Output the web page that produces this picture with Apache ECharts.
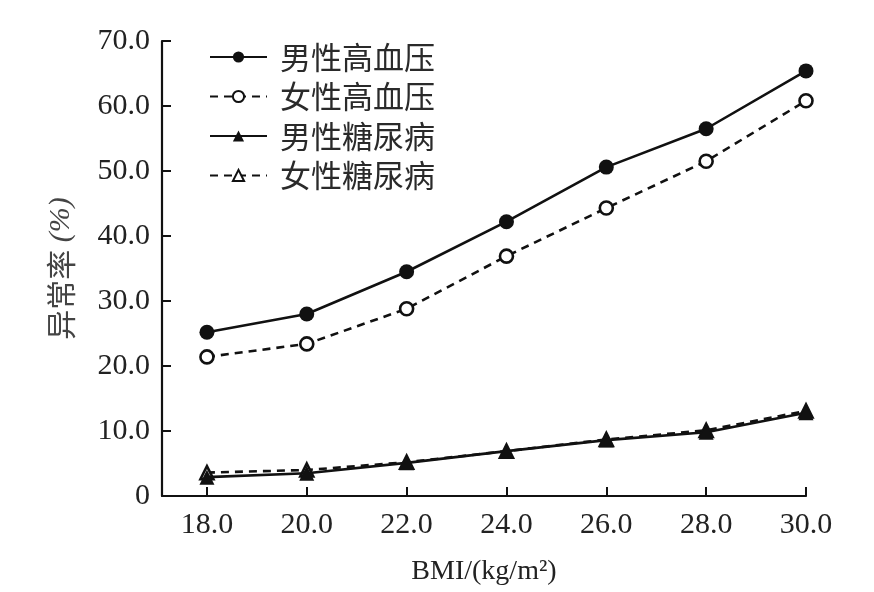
<!DOCTYPE html>
<html>
<head>
<meta charset="utf-8">
<script src="https://cdn.jsdelivr.net/npm/echarts@6/dist/echarts.min.js"></script>
<style>html,body{margin:0;padding:0;background:#fff;}#c{width:874px;height:592px;}</style>
</head>
<body>
<div id="c"></div>
<script>
const bmi = [18, 20, 22, 24, 26, 28, 30];
const maleHtn = [25.2, 28.0, 34.5, 42.2, 50.6, 56.5, 65.4];
const femaleHtn = [21.4, 23.4, 28.8, 36.9, 44.3, 51.5, 60.8];
const maleDm = [2.9, 3.5, 5.1, 6.9, 8.6, 9.8, 12.8];
const femaleDm = [3.6, 4.0, 5.2, 6.9, 8.7, 10.1, 13.1];
const names = ['男性高血压', '女性高血压', '男性糖尿病', '女性糖尿病'];

const pair = arr => bmi.map((x, i) => [x, arr[i]]);
const serif = '"Liberation Serif", "DejaVu Serif", serif';
const cjk = '"Noto Sans CJK SC", sans-serif';
const ink = '#111';

function mk(name, arr, symbol, filled, dashed) {
  return {
    name, type: 'line', data: pair(arr), symbol,
    symbolSize: filled ? 15 : 13,
    showSymbol: true,
    lineStyle: { color: ink, width: 2.6, type: dashed ? [8, 6] : 'solid' },
    itemStyle: { color: filled ? ink : '#fff', borderColor: ink, borderWidth: filled ? 0 : 2.6 },
    emphasis: { disabled: true },
    z: filled ? 3 : 2
  };
}

const chart = echarts.init(document.getElementById('c'), null, { renderer: 'canvas' });
chart.setOption({
  backgroundColor: '#fff',
  animation: false,
  grid: { left: 162, right: 68, top: 41, bottom: 96, containLabel: false },
  legend: {
    orient: 'vertical', left: 204, top: 36,
    itemWidth: 57, itemHeight: 14, itemGap: 7.5,
    textStyle: { fontFamily: cjk, fontSize: 31, color: '#2a2a2a', lineHeight: 32, padding: [0, 0, 0, 8] },
    data: names
  },
  xAxis: {
    type: 'value', min: 17.1, max: 30,
    name: 'BMI/(kg/m²)', nameLocation: 'middle', nameGap: 62,
    nameTextStyle: { fontFamily: serif, fontSize: 28, color: '#222' },
    axisLine: { lineStyle: { color: ink, width: 2.2 } },
    axisTick: { inside: true, length: 9, lineStyle: { color: ink, width: 2 }, customValues: bmi },
    axisLabel: { customValues: bmi, formatter: v => v.toFixed(1), margin: 14, fontFamily: serif, fontSize: 30, color: '#222' },
    splitLine: { show: false }
  },
  yAxis: {
    type: 'value', min: 0, max: 70, interval: 10,
    name: '{c|异常率}{s| (%)}', nameLocation: 'middle', nameGap: 86, nameRotate: 90,
    nameTextStyle: {
      color: '#444',
      rich: {
        c: { fontFamily: cjk, fontSize: 30, color: '#444' },
        s: { fontFamily: serif, fontSize: 30, color: '#444', fontStyle: 'italic' }
      }
    },
    axisLine: { show: true, lineStyle: { color: ink, width: 2.2 } },
    axisTick: { show: true, inside: true, length: 9, lineStyle: { color: ink, width: 2 } },
    axisLabel: { formatter: v => v === 0 ? '0' : v.toFixed(1), margin: 12, fontFamily: serif, fontSize: 30, color: '#222' },
    splitLine: { show: false }
  },
  series: [
    mk(names[0], maleHtn, 'circle', true, false),
    mk(names[1], femaleHtn, 'circle', false, true),
    mk(names[2], maleDm, 'triangle', true, false),
    mk(names[3], femaleDm, 'triangle', false, true)
  ]
});
</script>
</body>
</html>
